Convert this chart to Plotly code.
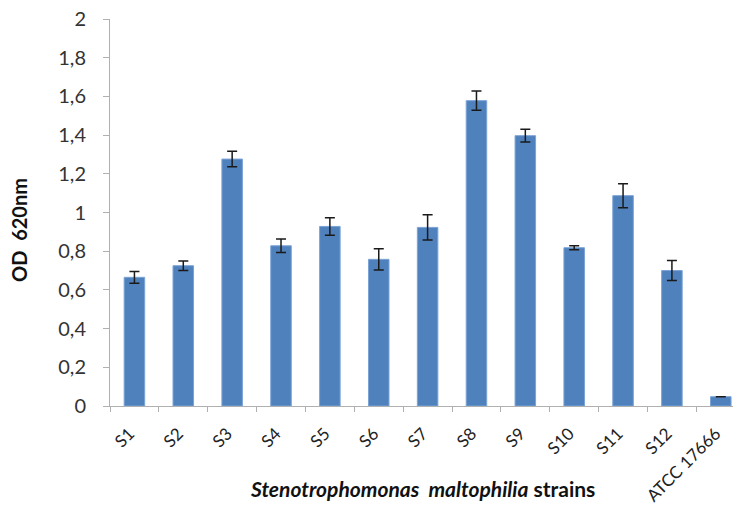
import plotly.graph_objects as go

strains = ["S1", "S2", "S3", "S4", "S5", "S6", "S7", "S8", "S9", "S10", "S11", "S12", "ATCC 17666"]
od620 = [0.665, 0.725, 1.276, 0.828, 0.928, 0.758, 0.923, 1.578, 1.397, 0.818, 1.087, 0.700, 0.048]
errors = [0.03, 0.025, 0.04, 0.035, 0.045, 0.055, 0.065, 0.05, 0.033, 0.01, 0.062, 0.052, 0.0]
y_ticks = [0, 0.2, 0.4, 0.6, 0.8, 1.0, 1.2, 1.4, 1.6, 1.8, 2.0]

FONT = "Lato, 'Open Sans', sans-serif"

fig = go.Figure()
fig.add_trace(go.Bar(
    x=strains, y=od620,
    width=0.42,
    marker=dict(color="#4f81bd", line=dict(color="#7aa3d6", width=1)),
    error_y=dict(type="data", array=errors, visible=True, color="#1a1a1a",
                 thickness=1.5, width=5),
    showlegend=False,
))

fig.update_layout(
    width=733, height=512,
    margin=dict(l=110, r=0, t=19, b=106),
    plot_bgcolor="white", paper_bgcolor="white",
    separators=",.",
    font=dict(family=FONT, color="#333333"),
    xaxis=dict(
        range=[-0.5, 12.25], tickangle=-45, tickson="boundaries",
        ticks="outside", ticklen=5, tickcolor="#b0b0b0",
        showline=True, linecolor="#b0b0b0", linewidth=1,
        tickfont=dict(size=17, family=FONT, color="#222222"),
        ticklabelstandoff=10, ticklabelshift=-5,
        showgrid=False, zeroline=False, automargin=False,
    ),
    yaxis=dict(
        range=[0, 2], tickvals=y_ticks,
        ticks="outside", ticklen=6, tickcolor="#b0b0b0",
        showline=True, linecolor="#b0b0b0", linewidth=1,
        tickfont=dict(size=20, family=FONT, color="#333333"),
        ticklabelstandoff=13,
        showgrid=False, zeroline=False, automargin=False,
    ),
    annotations=[
        dict(text="<b><i>Stenotrophomonas\u00a0\u00a0maltophilia</i> strains</b>",
             xref="paper", yref="paper", x=0.502, y=0, yshift=-82,
             xanchor="center", yanchor="middle", showarrow=False,
             font=dict(size=21, family=FONT, color="#111111")),
        dict(text="<b>OD\u00a0\u00a0620nm</b>",
             xref="paper", yref="paper", x=0, xshift=-91, y=0.455,
             xanchor="center", yanchor="middle", textangle=-90, showarrow=False,
             font=dict(size=20, family=FONT, color="#111111")),
    ],
)

fig.write_html("out.html", config={"displayModeBar": False},
               post_script="document.body.style.margin='0';document.body.style.padding='0';")
